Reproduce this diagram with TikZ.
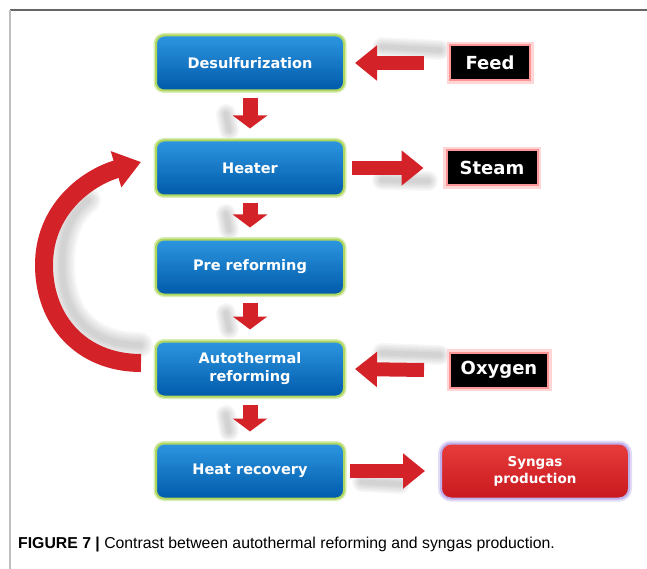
\documentclass[tikz,border=0pt]{standalone}
\usepackage{fontspec}
\setmainfont{Liberation Sans}
\newfontfamily\labelfont{DejaVu Sans}
\usetikzlibrary{shapes,arrows.meta}

\definecolor{stageblue}{RGB}{0,110,195}
\definecolor{stagetop}{RGB}{45,150,225}
\definecolor{stagebottom}{RGB}{0,90,170}
\definecolor{glowgreen}{RGB}{175,215,95}
\definecolor{arrowred}{RGB}{212,35,40}
\definecolor{glowpink}{RGB}{255,150,150}
\definecolor{glowlilac}{RGB}{190,175,235}
\definecolor{outred}{RGB}{232,60,60}
\definecolor{outreddark}{RGB}{200,25,30}

\tikzset{
  stage/.style={rectangle, rounded corners=8pt, minimum width=188pt, minimum height=55pt,
    top color=stagetop, middle color=stageblue, bottom color=stagebottom,
    draw=glowgreen, line width=2pt, preaction={draw=glowgreen!45, line width=5pt},
    text=white, align=center, font=\labelfont\bfseries\fontsize{14.5}{18}\selectfont},
  tag/.style={rectangle, fill=black, draw=glowpink, line width=2pt,
    preaction={draw=glowpink!40, line width=7pt}, minimum height=35pt, inner xsep=3pt,
    text=white, font=\labelfont\bfseries\fontsize{18}{20}\selectfont},
  product/.style={rectangle, rounded corners=10pt, minimum width=188pt, minimum height=55pt,
    top color=outred, bottom color=outreddark, draw=glowlilac, line width=2pt,
    preaction={draw=glowlilac!45, line width=6pt},
    text=white, align=center, font=\labelfont\bfseries\fontsize{13.5}{17}\selectfont},
  downarrow/.style={draw=arrowred, line width=15pt, -{Triangle[width=34pt,length=13pt]}},
  sidearrow/.style={draw=arrowred, line width=14pt, -{Triangle[width=34pt,length=22pt]}},
  loopstyle/.style={draw=arrowred, line width=18pt, -{Triangle[width=36pt,length=26pt]}},
  shadowline/.style={draw=black, opacity=0.03, line cap=round}
}

\newcommand{\flowstage}[3] {\node at (#1) (#2) [stage] {#3};}
\newcommand{\flowinput}[4] {\node at (#1) (#2) [tag, minimum width=#3] {#4};}
\newcommand{\flowdown}[2] {\draw [downarrow] ([yshift=-7pt]#1.south) -- ([yshift=11pt]#2.north);}
\newcommand{\flowside}[4] {\draw [sidearrow] ([xshift=#3]#1) -- ([xshift=#4]#2);}
\newcommand{\flowshadow}[2] {\foreach \w in {20,17,14,11,8,5} \draw [shadowline, line width=\w pt] (#1) -- (#2);}

\begin{document}
\begin{tikzpicture}[x=1pt, y=-1pt]
\useasboundingbox (0,0) rectangle (647,569);

% frame
\draw [black!60, line width=1.5pt] (10,10) -- (647,10);
\draw [black!25, line width=1.5pt] (10,10) -- (10,569);

% soft shadows
\flowshadow {382,47} {440,50};
\flowshadow {382,180} {428,181};
\flowshadow {382,353} {440,355};
\flowshadow {362,482} {400,484};
\flowshadow {226,114} {229,130};
\flowshadow {226,214} {229,230};
\flowshadow {226,313} {229,329};
\flowshadow {226,415} {229,431};
\foreach \w in {26,22,18,14,10,6}
  \draw [shadowline, line width=\w pt] (140,345) .. controls (85,345) and (62,310) .. (62,265) .. controls (62,235) and (70,215) .. (88,200);

\flowstage {250,63} {desulf} {Desulfurization};
\flowstage {250,168} {heater} {Heater};
\flowstage {250,267} {prereform} {Pre reforming};
\flowstage {250,369} {autotherm} {Autothermal\\reforming};
\flowstage {250,471} {heatrec} {Heat recovery};

\flowinput {490,63} {feed} {80pt} {Feed};
\flowinput {492,168} {steam} {91pt} {Steam};
\flowinput {499,370} {oxygen} {98pt} {Oxygen};
\node at (535,471) (syngas) [product] {Syngas\\production};

\flowdown {desulf} {heater};
\flowdown {heater} {prereform};
\flowdown {prereform} {autotherm};
\flowdown {autotherm} {heatrec};

\flowside {feed.west} {desulf.east} {-25pt} {10pt};
\flowside {heater.east} {steam.west} {7pt} {-22pt};
\flowside {oxygen.west} {autotherm.east} {-25pt} {10pt};
\flowside {heatrec.east} {syngas.west} {5pt} {-15pt};

% return loop
\coordinate (loopleft) at (44,265);
\draw [loopstyle] ([xshift=-14pt,yshift=6pt]autotherm.west) .. controls +(-60,0) and +(0,55) .. (loopleft)
  .. controls +(0,-55) and +(-55,16) .. ([xshift=-14pt,yshift=6pt]heater.west);

\node at (18,548) (caption) [anchor=base west, font=\fontsize{15.8}{18}\selectfont, inner sep=0pt]
  {\textbf{FIGURE 7 |} Contrast between autothermal reforming and syngas production.};
\end{tikzpicture}
\end{document}
